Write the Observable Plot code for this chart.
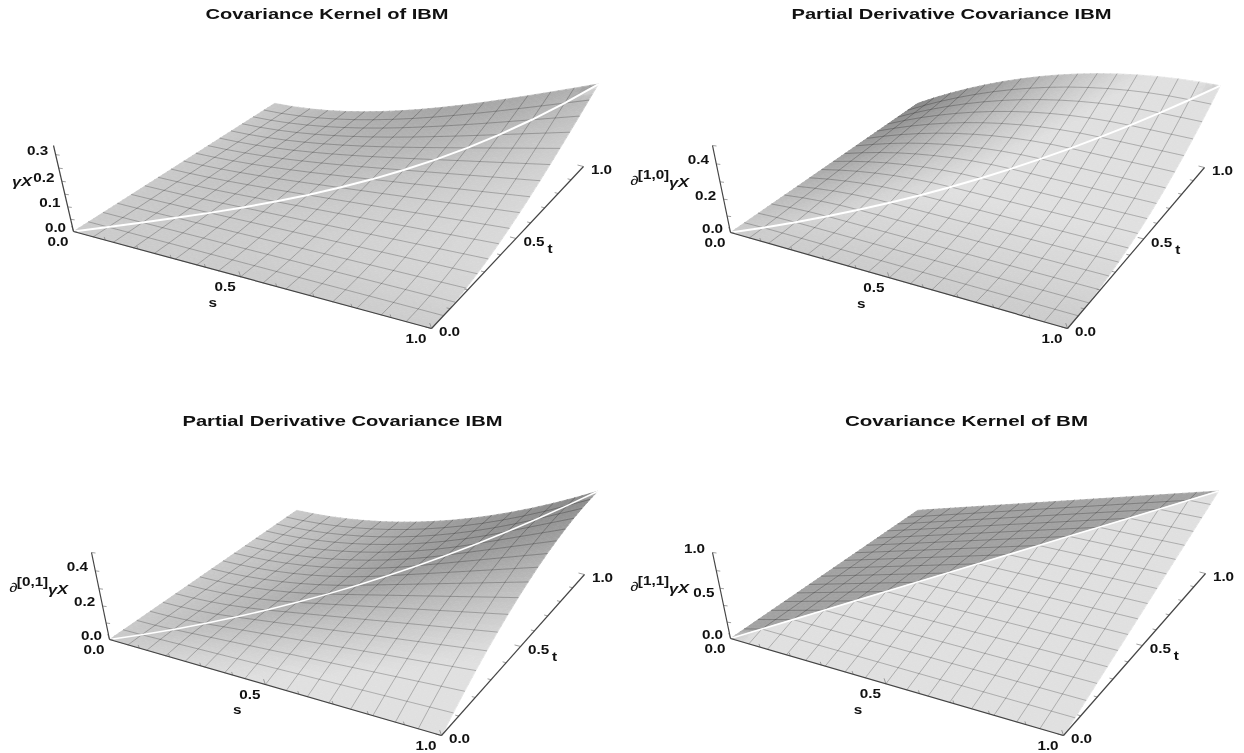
<!DOCTYPE html>
<html><head><meta charset="utf-8">
<style>html,body{margin:0;padding:0;background:#fff}svg{display:block;filter:blur(0.35px)}</style>
<script src="https://cdn.jsdelivr.net/npm/d3@7"></script>
<script src="https://cdn.jsdelivr.net/npm/@observablehq/plot@0.6"></script>
</head><body><div id="chart"></div>
<script>
// Surface heights on a 17 x 17 mesh (row = s step, column = t step)
const ibmUnit = 24576;
const ibmKernel = [
[0,0,0,0,0,0,0,0,0,0,0,0,0,0,0,0,0],
[0,2,5,8,11,14,17,20,23,26,29,32,35,38,41,44,47],
[0,5,16,28,40,52,64,76,88,100,112,124,136,148,160,172,184],
[0,8,28,54,81,108,135,162,189,216,243,270,297,324,351,378,405],
[0,11,40,81,128,176,224,272,320,368,416,464,512,560,608,656,704],
[0,14,52,108,176,250,325,400,475,550,625,700,775,850,925,1000,1075],
[0,17,64,135,224,325,432,540,648,756,864,972,1080,1188,1296,1404,1512],
[0,20,76,162,272,400,540,686,833,980,1127,1274,1421,1568,1715,1862,2009],
[0,23,88,189,320,475,648,833,1024,1216,1408,1600,1792,1984,2176,2368,2560],
[0,26,100,216,368,550,756,980,1216,1458,1701,1944,2187,2430,2673,2916,3159],
[0,29,112,243,416,625,864,1127,1408,1701,2000,2300,2600,2900,3200,3500,3800],
[0,32,124,270,464,700,972,1274,1600,1944,2300,2662,3025,3388,3751,4114,4477],
[0,35,136,297,512,775,1080,1421,1792,2187,2600,3025,3456,3888,4320,4752,5184],
[0,38,148,324,560,850,1188,1568,1984,2430,2900,3388,3888,4394,4901,5408,5915],
[0,41,160,351,608,925,1296,1715,2176,2673,3200,3751,4320,4901,5488,6076,6664],
[0,44,172,378,656,1000,1404,1862,2368,2916,3500,4114,4752,5408,6076,6750,7425],
[0,47,184,405,704,1075,1512,2009,2560,3159,3800,4477,5184,5915,6664,7425,8192]];
const partialUnit = 512;
const partialS = [
[0,0,0,0,0,0,0,0,0,0,0,0,0,0,0,0,0],
[0,1,3,5,7,9,11,13,15,17,19,21,23,25,27,29,31],
[0,1,4,8,12,16,20,24,28,32,36,40,44,48,52,56,60],
[0,1,4,9,15,21,27,33,39,45,51,57,63,69,75,81,87],
[0,1,4,9,16,24,32,40,48,56,64,72,80,88,96,104,112],
[0,1,4,9,16,25,35,45,55,65,75,85,95,105,115,125,135],
[0,1,4,9,16,25,36,48,60,72,84,96,108,120,132,144,156],
[0,1,4,9,16,25,36,49,63,77,91,105,119,133,147,161,175],
[0,1,4,9,16,25,36,49,64,80,96,112,128,144,160,176,192],
[0,1,4,9,16,25,36,49,64,81,99,117,135,153,171,189,207],
[0,1,4,9,16,25,36,49,64,81,100,120,140,160,180,200,220],
[0,1,4,9,16,25,36,49,64,81,100,121,143,165,187,209,231],
[0,1,4,9,16,25,36,49,64,81,100,121,144,168,192,216,240],
[0,1,4,9,16,25,36,49,64,81,100,121,144,169,195,221,247],
[0,1,4,9,16,25,36,49,64,81,100,121,144,169,196,224,252],
[0,1,4,9,16,25,36,49,64,81,100,121,144,169,196,225,255],
[0,1,4,9,16,25,36,49,64,81,100,121,144,169,196,225,256]];
const partialT = partialS[0].map((_, j) => partialS.map(row => row[j]));
const bmUnit = 16;
const bmKernel = [
[0,0,0,0,0,0,0,0,0,0,0,0,0,0,0,0,0],
[0,1,1,1,1,1,1,1,1,1,1,1,1,1,1,1,1],
[0,1,2,2,2,2,2,2,2,2,2,2,2,2,2,2,2],
[0,1,2,3,3,3,3,3,3,3,3,3,3,3,3,3,3],
[0,1,2,3,4,4,4,4,4,4,4,4,4,4,4,4,4],
[0,1,2,3,4,5,5,5,5,5,5,5,5,5,5,5,5],
[0,1,2,3,4,5,6,6,6,6,6,6,6,6,6,6,6],
[0,1,2,3,4,5,6,7,7,7,7,7,7,7,7,7,7],
[0,1,2,3,4,5,6,7,8,8,8,8,8,8,8,8,8],
[0,1,2,3,4,5,6,7,8,9,9,9,9,9,9,9,9],
[0,1,2,3,4,5,6,7,8,9,10,10,10,10,10,10,10],
[0,1,2,3,4,5,6,7,8,9,10,11,11,11,11,11,11],
[0,1,2,3,4,5,6,7,8,9,10,11,12,12,12,12,12],
[0,1,2,3,4,5,6,7,8,9,10,11,12,13,13,13,13],
[0,1,2,3,4,5,6,7,8,9,10,11,12,13,14,14,14],
[0,1,2,3,4,5,6,7,8,9,10,11,12,13,14,15,15],
[0,1,2,3,4,5,6,7,8,9,10,11,12,13,14,15,16]];

const titles = ["Covariance Kernel of IBM","Partial Derivative Covariance IBM","Partial Derivative Covariance IBM","Covariance Kernel of BM"];
const tables = [ibmKernel, partialS, partialT, bmKernel];
const units = [ibmUnit, partialUnit, partialUnit, bmUnit];
const zTops = [1/3, 0.5, 0.5, 1];
const zTickLabels = [[0,0.1,0.2,0.3],[0,0.2,0.4],[0,0.2,0.4],[0,0.5,1]];
const zMinorSteps = [0.05,0.1,0.1,0.2];
const axisTicks = [0,0.5,1];
const superscripts = [null,"[1,0]","[0,1]","[1,1]"];
const diagonalWidths = [2,2,1.5,1.6];

// Camera of each panel: image of the box corners O(0,0,0) A(1,0,0) C(1,1,0) B(0,1,0), T(0,0,top), P(1,1,top)
const cameras = [
 {O:[73,231],A:[431,328],C:[583,166],B:[274,103],T:[53,145],P:[597,87],titleX:326.5,titleY:14,titleW:243},
 {O:[730,232],A:[1067,328],C:[1204,167],B:[917,103],T:[712,145],P:[1220,82],titleX:951,titleY:14,titleW:320},
 {O:[109,639],A:[441,735],C:[584,574],B:[296,510],T:[91,552],P:[597,490],titleX:342,titleY:421,titleW:320},
 {O:[730,638],A:[1063,735],C:[1205,573],B:[917,510],T:[712,552],P:[1218,489],titleX:966,titleY:421,titleW:243}
];
const det = (a,b)=>a[0]*b[1]-a[1]*b[0];
function makeProject(c, top){
  const sum=[c.O[0]-c.A[0]+c.C[0]-c.B[0], c.O[1]-c.A[1]+c.C[1]-c.B[1]];
  const d1=[c.A[0]-c.C[0],c.A[1]-c.C[1]], d2=[c.B[0]-c.C[0],c.B[1]-c.C[1]];
  const D=det(d1,d2), g=det(sum,d2)/D, h=det(d1,sum)/D;
  const a=c.A[0]-c.O[0]+g*c.A[0], b=c.B[0]-c.O[0]+h*c.B[0];
  const d=c.A[1]-c.O[1]+g*c.A[1], e=c.B[1]-c.O[1]+h*c.B[1];
  // vanishing point of the vertical direction
  const u=[c.T[0]-c.O[0],c.T[1]-c.O[1]], v=[c.P[0]-c.C[0],c.P[1]-c.C[1]];
  const w=[c.C[0]-c.O[0],c.C[1]-c.O[1]];
  const l=det(w,v)/det(u,v);
  const V=[c.O[0]+l*u[0],c.O[1]+l*u[1]];
  const k=(c.O[1]-c.T[1])/(c.T[1]-V[1])/top;
  return (s,t,z)=>{
    const W=1+g*s+h*t+k*z;
    return [(a*s+b*t+c.O[0]+k*z*V[0])/W,(d*s+e*t+c.O[1]+k*z*V[1])/W];
  };
}
const N=16, SUB=3;
const shadeParams={base:0.795,sCoef:0.4,tCoef:0.25,max:0.88,knee:0.62,soft:0.6};
const polys=[],meshes=[],diagonals=[],axes=[],labels=[];
let pid=0, lid=0;
tables.forEach((table,pi)=>{
  const unit=units[pi], top=zTops[pi], cam=cameras[pi], R=0.4/top;
  const project=makeProject(cam,top);
  const Z=(i,j)=>table[i][j]/unit;
  const inSide=(i,j,side)=>i>=0&&j>=0&&i<=N&&j<=N&&(side>0?j>=i:j<=i);
  function shade(i,j,side){
    const il=inSide(i-1,j,side)?i-1:i, ih=inSide(i+1,j,side)?i+1:i;
    const jl=inSide(i,j-1,side)?j-1:j, jh=inSide(i,j+1,side)?j+1:j;
    const zs=ih>il?(Z(ih,j)-Z(il,j))*N/(ih-il):0;
    const zt=jh>jl?(Z(i,jh)-Z(i,jl))*N/(jh-jl):0;
    const p=shadeParams;
    const raw=Math.min(p.max,p.base-p.sCoef*R*zs+p.tCoef*R*zt);
    return raw<p.knee?p.knee-(p.knee-raw)*p.soft:raw;
  }
  const addTri=(n1,n2,n3,side)=>{
    const nodes=[n1,n2,n3].map(([i,j])=>({i,j,z:Z(i,j),c:shade(i,j,side)}));
    const at=(a,b)=>{const c=SUB-a-b;const mix=f=>(a*f(nodes[0])+b*f(nodes[1])+c*f(nodes[2]))/SUB;
      return {s:mix(n=>n.i)/N,t:mix(n=>n.j)/N,z:mix(n=>n.z),c:mix(n=>n.c)};};
    const emit=pts=>{
      const m=d3.mean(pts,p=>p.c), v=Math.round(255*Math.max(0,Math.min(1,m)));
      const col=`rgb(${v},${v},${v})`; pid++;
      for(const p of pts){const [x,y]=project(p.s,p.t,p.z);polys.push({x,y,id:pid,col});}
    };
    for(let a=0;a<SUB;a++)for(let b=0;b<SUB-a;b++){
      emit([at(a,b),at(a+1,b),at(a,b+1)]);
      if(a+b<SUB-1)emit([at(a+1,b),at(a+1,b+1),at(a,b+1)]);
    }
  };
  for(let j=N-1;j>=0;j--)for(let i=0;i<N;i++){
    addTri([i,j],[i,j+1],[i+1,j+1],j>=i?1:-1);
    addTri([i,j],[i+1,j],[i+1,j+1],j>i?1:-1);
  }
  for(let m=1;m<N;m++){
    lid++; for(let j=0;j<=N;j++){const [x,y]=project(m/N,j/N,Z(m,j));meshes.push({x,y,id:lid});}
    lid++; for(let i=0;i<=N;i++){const [x,y]=project(i/N,m/N,Z(i,m));meshes.push({x,y,id:lid});}
  }
  for(let i=0;i<=N;i++){const [x,y]=project(i/N,i/N,Z(i,i));diagonals.push({x,y,panel:pi,w:diagonalWidths[pi]});}
  const link=(p,q,kind)=>axes.push({x1:p[0],y1:p[1],x2:q[0],y2:q[1],kind});
  link(project(0,0,0),project(1,0,0),"axis");
  link(project(1,0,0),project(1,1,0),"axis");
  link(project(0,0,0),project(0,0,top),"axis");
  const tick=(v,major)=>{
    const len=major?6:3.5;
    const a=project(v,0,0); link(a,[a[0]-len*0.3,a[1]-len*0.9],"tick");
    const b=project(1,v,0); link(b,[b[0]-len,b[1]-len*0.25],"tick");
  };
  d3.range(0,11).forEach(q=>tick(q/10,q%5===0));
  const step=zMinorSteps[pi];
  for(let n=0;n*step<=top+1e-6;n++){const a=project(0,0,n*step);link(a,[a[0]+4,a[1]+0.5],"tick");}
  const put=(p,dx,dy,text,cls)=>labels.push({x:p[0]+dx,y:p[1]+dy,text,cls});
  axisTicks.forEach(v=>{
    put(project(v,0,0),-15.5,10.5,v.toFixed(1),"tick");
    put(project(1,v,0),18,4,v.toFixed(1),"tick");
  });
  zTickLabels[pi].forEach(v=>put(project(0,0,v),-18,-3.5,v.toFixed(1),"tick"));
  put(project(0.5,0,0),-28,26,"s","tick");
  put(project(1,0.5,0),34,11,"t","tick");
  labels.push({x:cam.titleX,y:cam.titleY,text:titles[pi],cls:"title",w:cam.titleW});
  const O=project(0,0,0);
  if(pi>0){
    put(O,-96,-52,"∂","del");
    put(O,-77,-57.5,superscripts[pi],"sup");
  }
  put(O,-51.5,-50,"γX","gamma");
});
const font="Liberation Sans";
const byClass=c=>labels.filter(d=>d.cls===c);
const textMark=(cls,size,extra={})=>Plot.text(byClass(cls),{x:"x",y:"y",text:"text",fontFamily:font,fontWeight:"bold",fontSize:size,fill:"#111",textAnchor:"middle",lineAnchor:"middle",...extra});
const plot=Plot.plot({
  width:1244,height:753,margin:0,
  x:{domain:[0,1244],range:[0,1244],axis:null},
  y:{domain:[0,753],range:[0,753],axis:null},
  color:{type:"identity"},
  marks:[
    Plot.line(polys,{x:"x",y:"y",z:"id",fill:"col",stroke:"col",strokeWidth:0.7,curve:"linear-closed"}),
    Plot.line(meshes,{x:"x",y:"y",z:"id",stroke:"#000",strokeOpacity:0.26,strokeWidth:0.9}),
    Plot.line(diagonals,{x:"x",y:"y",z:"panel",stroke:"#fff",strokeWidth:"w"}),
    Plot.link(axes.filter(d=>d.kind==="tick"),{x1:"x1",y1:"y1",x2:"x2",y2:"y2",stroke:"#888",strokeWidth:0.8}),
    Plot.link(axes.filter(d=>d.kind==="axis"),{x1:"x1",y1:"y1",x2:"x2",y2:"y2",stroke:"#444",strokeWidth:1.2}),
    textMark("tick",12),
    textMark("title",14),
    textMark("gamma",13,{fontStyle:"italic"}),
    textMark("del",13,{fontWeight:"normal",fontStyle:"italic"}),
    textMark("sup",12)
  ]
});
document.getElementById("chart").appendChild(plot);
// the reference's lettering is horizontally widened
plot.querySelectorAll("text").forEach(t=>{
  const w=t.getComputedTextLength();
  let target=w*1.27;
  if(t.textContent.length>10){
    const tx=+t.getAttribute("transform").match(/translate\(([\d.]+)/)[1];
    const hit=labels.find(d=>d.w&&d.text===t.textContent&&Math.abs(tx-d.x)<2);
    if(hit) target=hit.w;
  }
  t.setAttribute("textLength",target.toFixed(1));
  t.setAttribute("lengthAdjust","spacingAndGlyphs");
});
</script></body></html>
